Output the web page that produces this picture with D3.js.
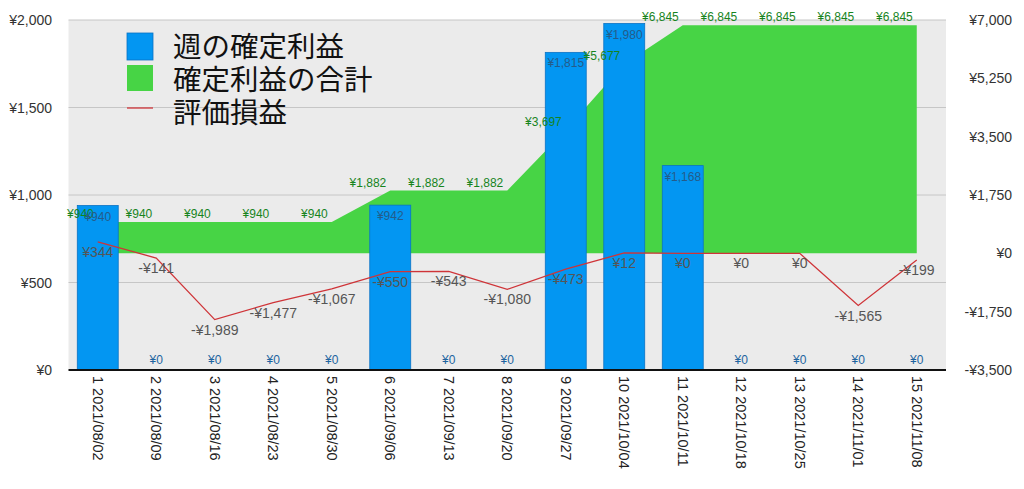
<!DOCTYPE html>
<html>
<head>
<meta charset="utf-8">
<script src="https://cdn.jsdelivr.net/npm/d3@7"></script>
<style>
  body { margin: 0; background: #fff; }
  text { font-family: "Liberation Sans", Arial, sans-serif; }
</style>
</head>
<body>
<svg id="chart"></svg>
<script>
const width = 1024;
const height = 489;

// data
const weeks = ['2021/08/02', '2021/08/09', '2021/08/16', '2021/08/23', '2021/08/30',
  '2021/09/06', '2021/09/13', '2021/09/20', '2021/09/27', '2021/10/04',
  '2021/10/11', '2021/10/18', '2021/10/25', '2021/11/01', '2021/11/08'];
const weeklyProfit = [940, 0, 0, 0, 0, 942, 0, 0, 1815, 1980, 1168, 0, 0, 0, 0];
const totalProfit = [940, 940, 940, 940, 940, 1882, 1882, 1882, 3697, 5677, 6845, 6845, 6845, 6845, 6845];
const unrealized = [344, -141, -1989, -1477, -1067, -550, -543, -1080, -473, 12, 0, 0, 0, -1565, -199];
const leftTicks = [0, 500, 1000, 1500, 2000];
const rightTicks = [-3500, -1750, 0, 1750, 3500, 5250, 7000];
const legendNames = ['週の確定利益', '確定利益の合計', '評価損益'];

const categories = weeks.map((w, i) => `${i + 1} ${w}`);
const rows = categories.map((c, i) => ({
  cat: c, bar: weeklyProfit[i], total: totalProfit[i], pl: unrealized[i]
}));

const yen = v => (v < 0 ? '-' : '') + '¥' + d3.format(',')(Math.abs(v));

const svg = d3.select('#chart').attr('width', width).attr('height', height);

const plotLeft = 68.5, plotRight = 946, plotTop = 20, plotBottom = 370;

const x = d3.scaleBand().domain(categories).range([plotLeft, plotRight])
  .paddingInner(0.3).paddingOuter(0.15);
const cx = c => x(c) + x.bandwidth() / 2;
const yL = d3.scaleLinear().domain([0, 2000]).range([plotBottom, plotTop]);
const yR = d3.scaleLinear().domain([-3500, 7000]).range([plotBottom, plotTop]);

// background
svg.append('rect')
  .attr('x', plotLeft).attr('y', plotTop)
  .attr('width', plotRight - plotLeft).attr('height', plotBottom - plotTop)
  .attr('fill', '#ebebeb');

// grid
svg.append('g').selectAll('line')
  .data(leftTicks.filter(d => d > 0))
  .enter().append('line')
  .attr('x1', plotLeft).attr('x2', plotRight)
  .attr('y1', d => yL(d)).attr('y2', d => yL(d))
  .attr('stroke', '#c6c6c6').attr('stroke-width', 1);

// left axis labels
svg.append('g').selectAll('text')
  .data(leftTicks).enter().append('text')
  .attr('x', 52).attr('y', d => yL(d) + 5)
  .attr('text-anchor', 'end')
  .attr('font-size', 14).attr('fill', '#333')
  .text(yen);

// right axis labels
svg.append('g').selectAll('text')
  .data(rightTicks).enter().append('text')
  .attr('x', 1012).attr('y', d => yR(d) + 5)
  .attr('text-anchor', 'end')
  .attr('font-size', 14).attr('fill', '#333')
  .text(yen);

// cumulative area
const area = d3.area()
  .x(d => cx(d.cat))
  .y0(yR(0))
  .y1(d => yR(d.total));
svg.append('path')
  .datum(rows)
  .attr('d', area)
  .attr('fill', '#47d445');

// weekly bars
svg.append('g').selectAll('rect')
  .data(rows).enter().append('rect')
  .attr('x', d => x(d.cat))
  .attr('width', x.bandwidth())
  .attr('y', d => yL(d.bar))
  .attr('height', d => yL(0) - yL(d.bar))
  .attr('fill', '#0396f2')
  .attr('stroke', '#0b72c4')
  .attr('stroke-width', d => d.bar > 0 ? 0.8 : 0);

// axis baseline
svg.append('line')
  .attr('x1', plotLeft).attr('x2', plotRight)
  .attr('y1', plotBottom).attr('y2', plotBottom)
  .attr('stroke', '#111').attr('stroke-width', 2);

// unrealized line
const line = d3.line()
  .x(d => cx(d.cat))
  .y(d => yR(d.pl));
svg.append('path')
  .datum(rows)
  .attr('d', line)
  .attr('fill', 'none')
  .attr('stroke', '#cf3438')
  .attr('stroke-width', 1.3);

// labels: cumulative
svg.append('g').selectAll('text')
  .data(rows).enter().append('text')
  .attr('x', d => cx(d.cat) - 4)
  .attr('y', d => yR(d.total) - 4)
  .attr('text-anchor', 'end')
  .attr('font-size', 12).attr('fill', '#17841d')
  .text(d => yen(d.total));

// labels: bars
svg.append('g').selectAll('text')
  .data(rows).enter().append('text')
  .attr('x', d => cx(d.cat))
  .attr('y', d => d.bar > 0 ? yL(d.bar) + 15 : yL(0) - 6)
  .attr('text-anchor', 'middle')
  .attr('font-size', 12)
  .attr('fill', d => d.bar > 0 ? '#245c8a' : '#1d64a0')
  .text(d => yen(d.bar));

// labels: unrealized
svg.append('g').selectAll('text')
  .data(rows).enter().append('text')
  .attr('x', d => cx(d.cat))
  .attr('y', d => yR(d.pl) + 15)
  .attr('text-anchor', 'middle')
  .attr('font-size', 14).attr('fill', '#555')
  .text(d => yen(d.pl));

// category labels
svg.append('g').selectAll('text')
  .data(categories).enter().append('text')
  .attr('transform', d => `translate(${cx(d) - 5},376) rotate(90)`)
  .attr('font-size', 14.5).attr('fill', '#222')
  .text(d => d);

// legend
const legend = svg.append('g').attr('transform', 'translate(127,33)');
legend.append('rect').attr('x', 0).attr('y', 0).attr('width', 26).attr('height', 27)
  .attr('fill', '#0396f2').attr('stroke', '#0b72c4').attr('stroke-width', 0.8);
legend.append('rect').attr('x', 0).attr('y', 32).attr('width', 26).attr('height', 26)
  .attr('fill', '#47d445');
legend.append('line').attr('x1', 0).attr('x2', 26).attr('y1', 75).attr('y2', 75)
  .attr('stroke', '#cf3438').attr('stroke-width', 1.3);
legend.selectAll('text.leg')
  .data(legendNames).enter().append('text')
  .attr('class', 'leg')
  .attr('x', 46)
  .attr('y', (d, i) => 24 + i * 33)
  .style('font-family', '"Noto Sans CJK JP", sans-serif')
  .attr('font-size', 28.5).attr('fill', '#111')
  .text(d => d);
</script>
</body>
</html>
